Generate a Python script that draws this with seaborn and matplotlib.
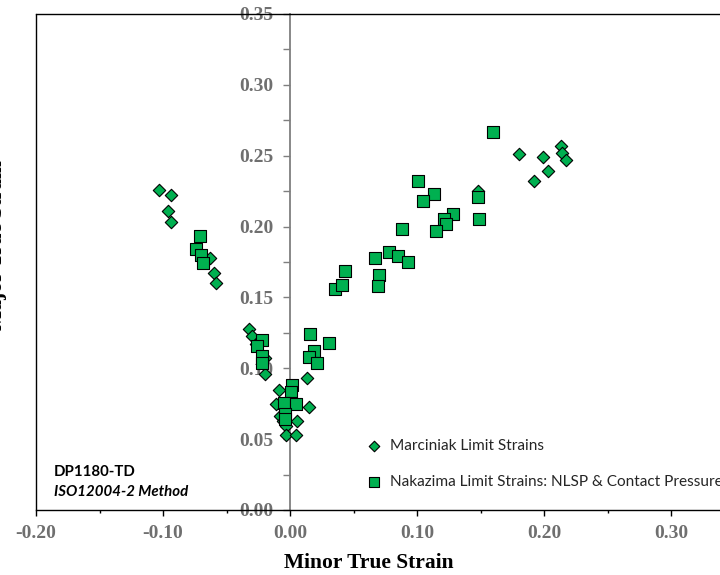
import matplotlib
matplotlib.use("Agg")
import matplotlib.pyplot as plt
from matplotlib.lines import Line2D
from matplotlib.ticker import MultipleLocator, FormatStrFormatter
import seaborn as sns
import pandas as pd

# ---- data ----
marc_minor = [-0.103, -0.094, -0.096, -0.094, -0.063, -0.060, -0.058,
              -0.032, -0.030, -0.027, -0.020, -0.020, -0.0087, -0.011, -0.0079,
              -0.0055, -0.003, 0.0055, -0.003, 0.0045, 0.0134, 0.015,
              0.148, 0.180, 0.199, 0.213, 0.214, 0.217, 0.203, 0.192]
marc_major = [0.226, 0.222, 0.211, 0.203, 0.178, 0.167, 0.160,
              0.128, 0.123, 0.117, 0.107, 0.096, 0.085, 0.075, 0.066,
              0.063, 0.059, 0.063, 0.053, 0.053, 0.093, 0.073,
              0.225, 0.251, 0.249, 0.257, 0.252, 0.247, 0.239, 0.232]

naka_minor = [-0.071, -0.074, -0.070, -0.0685,
              -0.022, -0.0256, -0.0217, -0.0223,
              0.0016, 0.0008, 0.0008, -0.0047, 0.0047, -0.0039, -0.0039,
              0.0157, 0.0189, 0.015, 0.0209, 0.031,
              0.0358, 0.0407, 0.0435, 0.070, 0.0695, 0.067,
              0.078, 0.085, 0.093, 0.0884,
              0.101, 0.113, 0.105, 0.128, 0.121, 0.123, 0.115,
              0.149, 0.148, 0.160]
naka_major = [0.193, 0.184, 0.180, 0.174,
              0.120, 0.116, 0.109, 0.104,
              0.088, 0.083, 0.0755, 0.0755, 0.075, 0.068, 0.064,
              0.124, 0.112, 0.108, 0.104, 0.118,
              0.156, 0.159, 0.169, 0.166, 0.158, 0.178,
              0.182, 0.179, 0.175, 0.198,
              0.232, 0.223, 0.218, 0.209, 0.205, 0.202, 0.197,
              0.205, 0.221, 0.267]

marc_label = "Marciniak Limit Strains"
naka_label = "Nakazima Limit Strains: NLSP & Contact Pressure"
x_title = "Minor True Strain"
y_title = "Major True Strain"
note_line1 = "DP1180-TD"
note_line2 = "ISO12004-2 Method"

df_m = pd.DataFrame({"minor": marc_minor, "major": marc_major})
df_n = pd.DataFrame({"minor": naka_minor, "major": naka_major})

# ---- style ----
sns.set_theme(style="white")
plt.rcParams["font.family"] = ["DejaVu Sans"]

GREEN = "#00B050"
GRAY = "#6f6f6f"

fig = plt.figure(figsize=(7.2, 5.75), dpi=100)
ax = fig.add_axes([36/720, 65/575, 698.5/720, 496/575])

sns.scatterplot(data=df_m, x="minor", y="major", marker="D", s=40,
                color=GREEN, edgecolor="black", linewidth=0.8, ax=ax,
                label=marc_label, zorder=3)
sns.scatterplot(data=df_n, x="minor", y="major", marker="s", s=64,
                color=GREEN, edgecolor="black", linewidth=0.8, ax=ax,
                label=naka_label, zorder=4)

ax.set_xlim(-0.20, 0.35)
ax.set_ylim(0.0, 0.35)

# spines
ax.spines["left"].set_position(("data", 0))
ax.spines["left"].set_color("#7f7f7f")
ax.spines["left"].set_linewidth(1.3)
for s in ("bottom", "top", "right"):
    ax.spines[s].set_color("black")
    ax.spines[s].set_linewidth(1.0)
# plot-area frame left edge
ax.add_line(Line2D([0, 0], [0, 1], transform=ax.transAxes, color="black",
                   linewidth=1.0, clip_on=False))

ax.xaxis.set_major_locator(MultipleLocator(0.10))
ax.xaxis.set_minor_locator(MultipleLocator(0.05))
ax.yaxis.set_major_locator(MultipleLocator(0.05))
ax.yaxis.set_minor_locator(MultipleLocator(0.025))
ax.xaxis.set_major_formatter(FormatStrFormatter("%.2f"))
ax.yaxis.set_major_formatter(FormatStrFormatter("%.2f"))

ax.tick_params(axis="x", which="major", direction="out", length=4.5, width=1,
               color="black", pad=6, bottom=True)
ax.tick_params(axis="x", which="minor", direction="out", length=2.2, width=1,
               color="black", bottom=True)
ax.tick_params(axis="y", which="both", direction="out", length=4.8, width=1,
               color="#7f7f7f", pad=7, left=True)

for lab in ax.get_xticklabels() + ax.get_yticklabels():
    lab.set_fontfamily(["Liberation Serif"])
    lab.set_fontweight("bold")
    lab.set_fontsize(14)
    lab.set_color(GRAY)

ax.set_xlabel(x_title, fontfamily=["Liberation Serif"], fontweight="bold",
              fontsize=15.5, color="black")
ax.xaxis.set_label_coords((369 - 36) / 698.5, (510 - 563) / 496)
ax.xaxis.label.set_va("center")
ax.set_ylabel("")

fig.text(7/720, 1 - 245/575, y_title, rotation=90, ha="right", va="center",
         fontfamily=["Liberation Serif"], fontweight="bold", fontsize=15.5,
         color="black")

# legend
leg = ax.legend(frameon=False, loc="center left",
                bbox_to_anchor=(362/720, 1 - 464/575),
                bbox_transform=fig.transFigure,
                prop={"family": ["Lato"], "size": 11.1},
                handletextpad=0.2, labelspacing=1.42, borderpad=0,
                handlelength=1.6, borderaxespad=0, markerscale=0.85)

# annotation
ax.text(54/720, 1 - 472/575, note_line1, transform=fig.transFigure,
        fontfamily=["Lato"], fontweight="bold", fontsize=10.8,
        ha="left", va="center", color="black")
ax.text(54/720, 1 - 492/575, note_line2, transform=fig.transFigure,
        fontfamily=["Lato"], fontweight="bold", fontstyle="italic",
        fontsize=10.8, ha="left", va="center", color="black")

fig.savefig("out.png", dpi=100)
